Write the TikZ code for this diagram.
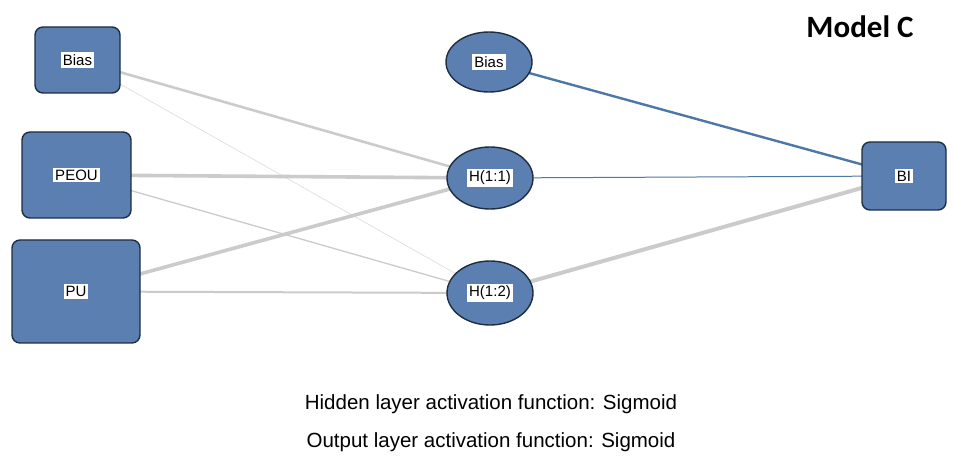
\documentclass[tikz,border=0pt]{standalone}
\usepackage{fontspec}
\setmainfont{Liberation Sans}
\newfontfamily\titlefont{Carlito}
\usetikzlibrary{shapes.geometric,backgrounds}

\definecolor{unitfill}{HTML}{5B7FB1}
\definecolor{unitdraw}{HTML}{1F2D40}
\definecolor{posline}{HTML}{4D78A6}
\definecolor{negline}{HTML}{CBCBCB}

% 节点内的白底标签
\newcommand{\unitlabel}[1]{{\setlength{\fboxsep}{2pt}\colorbox{white}{#1}}}

\begin{document}
\begin{tikzpicture}[
        x=1pt, y=-1pt,
        font=\fontsize{15}{17}\selectfont,
        inunit/.style={draw=unitdraw, fill=unitfill, line width=1.4pt,
          rounded corners=8pt, inner sep=0pt},
        hidunit/.style={draw=unitdraw, fill=unitfill, line width=1.4pt,
          ellipse, inner sep=0pt, minimum width=86, minimum height=62},
        negw/.style={draw=negline},
        posw/.style={draw=posline}]
        % 画布范围
        \useasboundingbox (0,0) rectangle (954,457);
        % 输入层
        \node[inunit, minimum width=85, minimum height=66] (biasin) at (77.5,60) {\unitlabel{Bias}};
        \node[inunit, minimum width=109, minimum height=86] (peou) at (76.5,175) {\unitlabel{PEOU}};
        \node[inunit, minimum width=128, minimum height=103] (pu) at (76,291.5) {\unitlabel{PU}};
        % 隐藏层
        \node[hidunit, minimum height=60] (biashid) at (489,62) {\unitlabel{Bias}};
        \node[hidunit] (h11) at (490,178) {\unitlabel{H(1:1)}};
        \node[hidunit, minimum height=64] (h12) at (490,293) {\unitlabel{H(1:2)}};
        % 输出层
        \node[inunit, minimum width=84, minimum height=68] (bi) at (904,176) {\unitlabel{BI}};
        % 绘制连接权重
        \begin{pgfonlayer}{background}
          \draw[negw, line width=2.6pt] (biasin.center) -- (h11.center);
          \draw[negw, line width=0.6pt, draw=negline!70] (biasin.center) -- (h12.center);
          \draw[negw, line width=3.6pt] (peou.center) -- (h11.center);
          \draw[negw, line width=1.3pt] (peou.center) -- (h12.center);
          \draw[negw, line width=3.6pt] (pu.center) -- (h11.center);
          \draw[negw, line width=2pt] (pu.center) -- (h12.center);
          \draw[posw, line width=2.4pt] (biashid.center) -- (bi.center);
          \draw[posw, line width=1pt] (h11.center) -- (bi.center);
          \draw[negw, line width=4pt] (h12.center) -- (bi.center);
        \end{pgfonlayer}
        % 标题与说明
        \node[font=\titlefont\bfseries\fontsize{31}{34}\selectfont] (title) at (860,27) {Model C};
        \node[font=\fontsize{20.5}{23}\selectfont] (hidfun) at (491,404) {Hidden layer activation function: Sigmoid};
        \node[font=\fontsize{20.5}{23}\selectfont] (outfun) at (491,442) {Output layer activation function: Sigmoid};
      \end{tikzpicture}
\end{document}
